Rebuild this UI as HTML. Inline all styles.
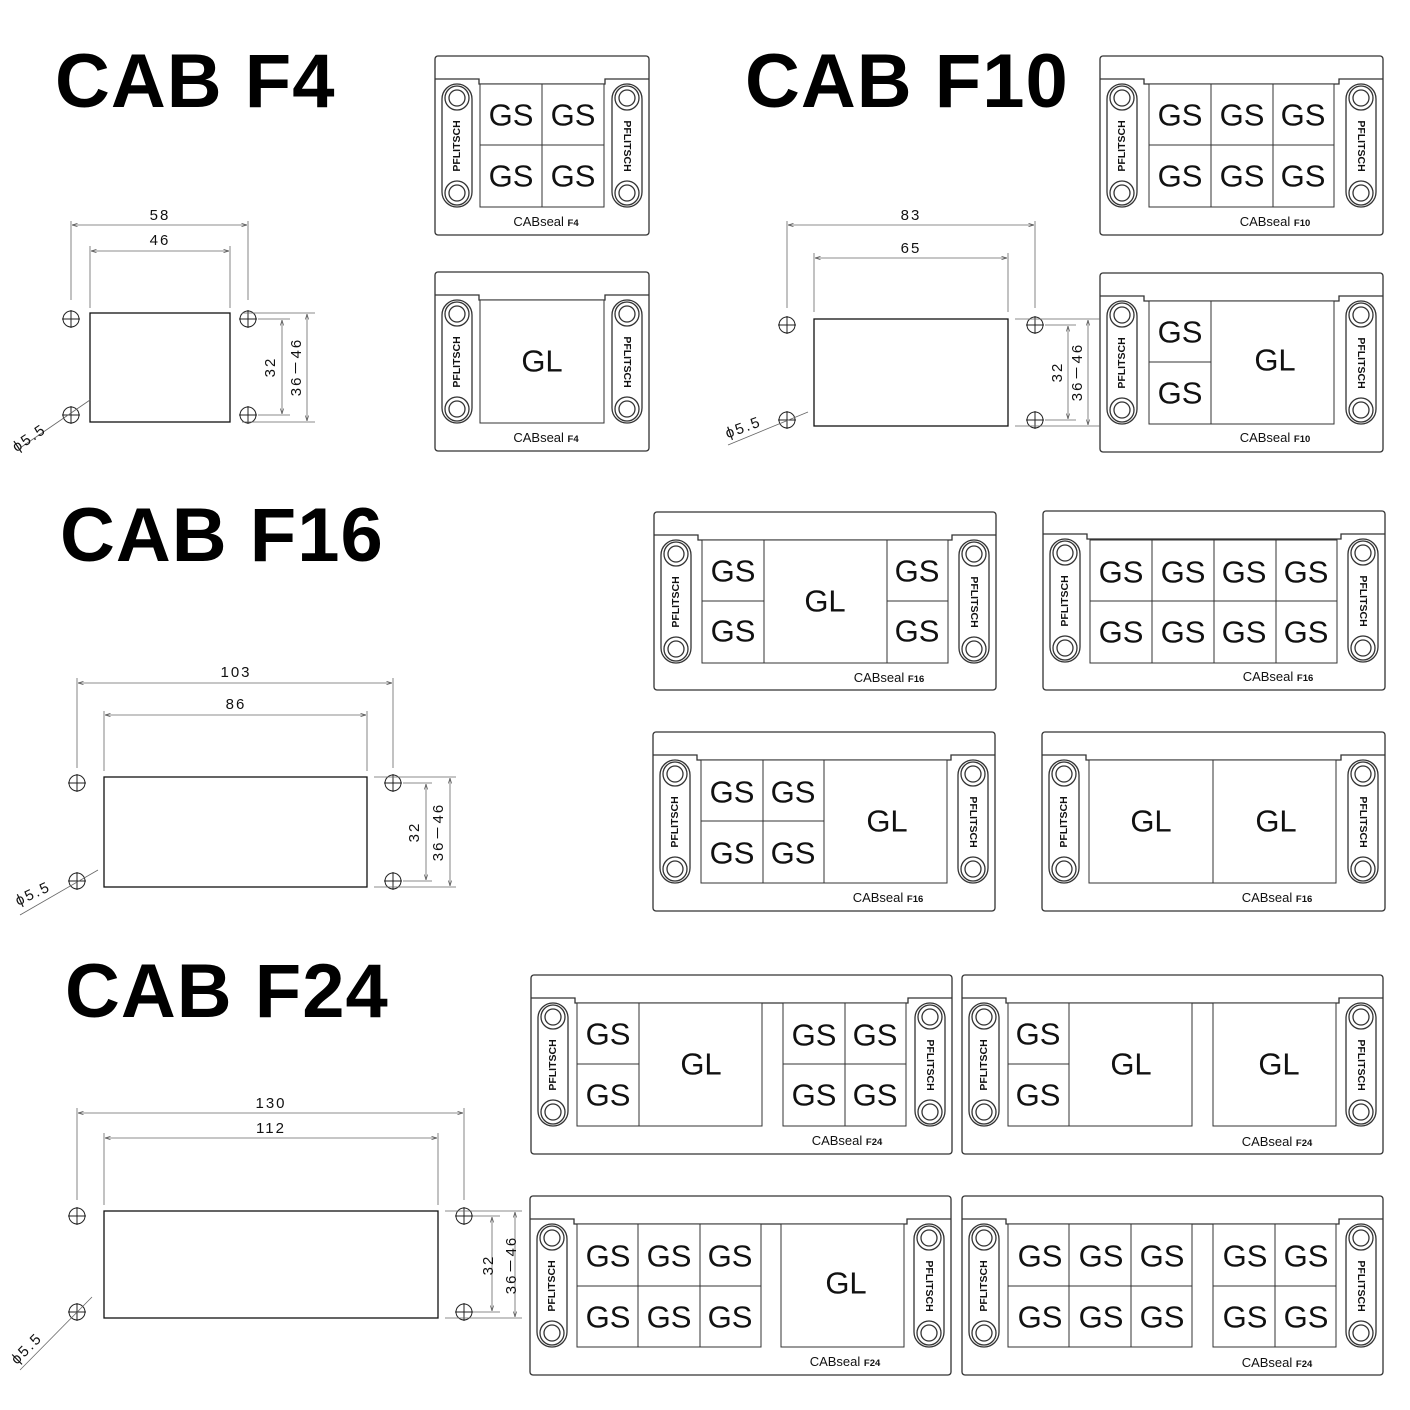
<!DOCTYPE html>
<html><head><meta charset="utf-8"><style>
html,body{margin:0;padding:0;background:#fff}
svg{display:block}
.f{fill:none;stroke:#333;stroke-width:1.3}
.c{fill:#fff;stroke:#333;stroke-width:1}
.d{fill:none;stroke:#666;stroke-width:0.8}
.k{fill:none;stroke:#111;stroke-width:1.3}
.h{fill:none;stroke:#222;stroke-width:1}
.t{font-family:"Liberation Sans",sans-serif;font-size:31px;fill:#111;text-anchor:middle;dominant-baseline:central}
.p{font-family:"Liberation Sans",sans-serif;font-size:10.5px;font-weight:bold;fill:#111;text-anchor:middle;dominant-baseline:central}
.l{font-family:"Liberation Sans",sans-serif;font-size:13px;fill:#111;text-anchor:middle}
.n{font-family:"Liberation Sans",sans-serif;font-size:15px;fill:#111;text-anchor:middle;letter-spacing:2px}
.T{font-family:"Liberation Sans",sans-serif;font-size:76px;font-weight:bold;fill:#000;letter-spacing:1px}
</style></head><body>
<svg width="1410" height="1410" viewBox="0 0 1410 1410" xmlns="http://www.w3.org/2000/svg">
<defs>
<marker id="a" viewBox="0 0 10 10" refX="10" refY="5" markerWidth="7" markerHeight="7" orient="auto-start-reverse"><path d="M0,2L10,5L0,8" fill="none" stroke="#555" stroke-width="1.2"/></marker>
<g id="railL">
<rect x="7" y="28" width="30" height="123" rx="15" class="f"/>
<circle cx="22" cy="42" r="12" class="f"/><circle cx="22" cy="42" r="8" class="f"/>
<circle cx="22" cy="137" r="12" class="f"/><circle cx="22" cy="137" r="8" class="f"/>
</g>
</defs>

<text class="T" x="55" y="107">CAB F4</text>
<text class="T" x="745" y="107">CAB F10</text>
<text class="T" x="60" y="561">CAB F16</text>
<text class="T" x="65" y="1017">CAB F24</text>

<g transform="translate(435,56)">
<rect x="0" y="0" width="214" height="179" rx="3" class="f"/>
<path d="M0,23H44V28H170V23H214" class="f"/>
<use href="#railL"/><use href="#railL" transform="translate(214,0) scale(-1,1)"/>
<text class="p" transform="translate(22,90) rotate(-90)">PFLITSCH</text>
<text class="p" transform="translate(192,90) rotate(90)">PFLITSCH</text>
</g>
<g transform="translate(435,272)">
<rect x="0" y="0" width="214" height="179" rx="3" class="f"/>
<path d="M0,23H44V28H170V23H214" class="f"/>
<use href="#railL"/><use href="#railL" transform="translate(214,0) scale(-1,1)"/>
<text class="p" transform="translate(22,90) rotate(-90)">PFLITSCH</text>
<text class="p" transform="translate(192,90) rotate(90)">PFLITSCH</text>
</g>
<g transform="translate(1100,56)">
<rect x="0" y="0" width="283" height="179" rx="3" class="f"/>
<path d="M0,23H44V28H239V23H283" class="f"/>
<use href="#railL"/><use href="#railL" transform="translate(283,0) scale(-1,1)"/>
<text class="p" transform="translate(22,90) rotate(-90)">PFLITSCH</text>
<text class="p" transform="translate(261,90) rotate(90)">PFLITSCH</text>
</g>
<g transform="translate(1100,273)">
<rect x="0" y="0" width="283" height="179" rx="3" class="f"/>
<path d="M0,23H44V28H239V23H283" class="f"/>
<use href="#railL"/><use href="#railL" transform="translate(283,0) scale(-1,1)"/>
<text class="p" transform="translate(22,90) rotate(-90)">PFLITSCH</text>
<text class="p" transform="translate(261,90) rotate(90)">PFLITSCH</text>
</g>
<g transform="translate(654,512)">
<rect x="0" y="0" width="342" height="178" rx="3" class="f"/>
<path d="M0,23H44V28H298V23H342" class="f"/>
<use href="#railL"/><use href="#railL" transform="translate(342,0) scale(-1,1)"/>
<text class="p" transform="translate(22,90) rotate(-90)">PFLITSCH</text>
<text class="p" transform="translate(320,90) rotate(90)">PFLITSCH</text>
</g>
<g transform="translate(1043,511)">
<rect x="0" y="0" width="342" height="179" rx="3" class="f"/>
<path d="M0,23H44V28H298V23H342" class="f"/>
<use href="#railL"/><use href="#railL" transform="translate(342,0) scale(-1,1)"/>
<text class="p" transform="translate(22,90) rotate(-90)">PFLITSCH</text>
<text class="p" transform="translate(320,90) rotate(90)">PFLITSCH</text>
</g>
<g transform="translate(653,732)">
<rect x="0" y="0" width="342" height="179" rx="3" class="f"/>
<path d="M0,23H44V28H298V23H342" class="f"/>
<use href="#railL"/><use href="#railL" transform="translate(342,0) scale(-1,1)"/>
<text class="p" transform="translate(22,90) rotate(-90)">PFLITSCH</text>
<text class="p" transform="translate(320,90) rotate(90)">PFLITSCH</text>
</g>
<g transform="translate(1042,732)">
<rect x="0" y="0" width="343" height="179" rx="3" class="f"/>
<path d="M0,23H44V28H299V23H343" class="f"/>
<use href="#railL"/><use href="#railL" transform="translate(343,0) scale(-1,1)"/>
<text class="p" transform="translate(22,90) rotate(-90)">PFLITSCH</text>
<text class="p" transform="translate(321,90) rotate(90)">PFLITSCH</text>
</g>
<g transform="translate(531,975)">
<rect x="0" y="0" width="421" height="179" rx="3" class="f"/>
<path d="M0,23H44V28H377V23H421" class="f"/>
<use href="#railL"/><use href="#railL" transform="translate(421,0) scale(-1,1)"/>
<text class="p" transform="translate(22,90) rotate(-90)">PFLITSCH</text>
<text class="p" transform="translate(399,90) rotate(90)">PFLITSCH</text>
</g>
<g transform="translate(962,975)">
<rect x="0" y="0" width="421" height="179" rx="3" class="f"/>
<path d="M0,23H44V28H377V23H421" class="f"/>
<use href="#railL"/><use href="#railL" transform="translate(421,0) scale(-1,1)"/>
<text class="p" transform="translate(22,90) rotate(-90)">PFLITSCH</text>
<text class="p" transform="translate(399,90) rotate(90)">PFLITSCH</text>
</g>
<g transform="translate(530,1196)">
<rect x="0" y="0" width="421" height="179" rx="3" class="f"/>
<path d="M0,23H44V28H377V23H421" class="f"/>
<use href="#railL"/><use href="#railL" transform="translate(421,0) scale(-1,1)"/>
<text class="p" transform="translate(22,90) rotate(-90)">PFLITSCH</text>
<text class="p" transform="translate(399,90) rotate(90)">PFLITSCH</text>
</g>
<g transform="translate(962,1196)">
<rect x="0" y="0" width="421" height="179" rx="3" class="f"/>
<path d="M0,23H44V28H377V23H421" class="f"/>
<use href="#railL"/><use href="#railL" transform="translate(421,0) scale(-1,1)"/>
<text class="p" transform="translate(22,90) rotate(-90)">PFLITSCH</text>
<text class="p" transform="translate(399,90) rotate(90)">PFLITSCH</text>
</g>

<rect class="c" x="480" y="84" width="62" height="61"/><rect class="c" x="542" y="84" width="62" height="61"/>
<rect class="c" x="480" y="145" width="62" height="62"/><rect class="c" x="542" y="145" width="62" height="62"/>
<text class="t" x="511" y="115">GS</text><text class="t" x="573" y="115">GS</text>
<text class="t" x="511" y="176">GS</text><text class="t" x="573" y="176">GS</text>
<rect class="c" x="480" y="300" width="124" height="123"/><text class="t" x="542" y="361">GL</text>
<rect class="c" x="1149" y="84" width="62" height="61"/><rect class="c" x="1211" y="84" width="62" height="61"/><rect class="c" x="1273" y="84" width="61" height="61"/>
<rect class="c" x="1149" y="145" width="62" height="62"/><rect class="c" x="1211" y="145" width="62" height="62"/><rect class="c" x="1273" y="145" width="61" height="62"/>
<text class="t" x="1180" y="115">GS</text><text class="t" x="1242" y="115">GS</text><text class="t" x="1303" y="115">GS</text>
<text class="t" x="1180" y="176">GS</text><text class="t" x="1242" y="176">GS</text><text class="t" x="1303" y="176">GS</text>
<rect class="c" x="1149" y="301" width="62" height="61"/><rect class="c" x="1149" y="362" width="62" height="62"/>
<rect class="c" x="1211" y="301" width="123" height="123"/>
<text class="t" x="1180" y="332">GS</text><text class="t" x="1180" y="393">GS</text><text class="t" x="1275" y="360">GL</text>
<rect class="c" x="702" y="540" width="62" height="61"/><rect class="c" x="702" y="601" width="62" height="62"/>
<rect class="c" x="764" y="540" width="123" height="123"/>
<rect class="c" x="887" y="540" width="61" height="61"/><rect class="c" x="887" y="601" width="61" height="62"/>
<text class="t" x="733" y="571">GS</text><text class="t" x="733" y="631">GS</text><text class="t" x="825" y="601">GL</text>
<text class="t" x="917" y="571">GS</text><text class="t" x="917" y="631">GS</text>
<rect class="c" x="1090" y="540" width="62" height="61"/><rect class="c" x="1152" y="540" width="62" height="61"/><rect class="c" x="1214" y="540" width="62" height="61"/><rect class="c" x="1276" y="540" width="61" height="61"/>
<rect class="c" x="1090" y="601" width="62" height="62"/><rect class="c" x="1152" y="601" width="62" height="62"/><rect class="c" x="1214" y="601" width="62" height="62"/><rect class="c" x="1276" y="601" width="61" height="62"/>
<text class="t" x="1121" y="572">GS</text><text class="t" x="1183" y="572">GS</text><text class="t" x="1244" y="572">GS</text><text class="t" x="1306" y="572">GS</text>
<text class="t" x="1121" y="632">GS</text><text class="t" x="1183" y="632">GS</text><text class="t" x="1244" y="632">GS</text><text class="t" x="1306" y="632">GS</text>
<rect class="c" x="701" y="760" width="62" height="61"/><rect class="c" x="763" y="760" width="61" height="61"/>
<rect class="c" x="701" y="821" width="62" height="62"/><rect class="c" x="763" y="821" width="61" height="62"/>
<rect class="c" x="824" y="760" width="123" height="123"/>
<text class="t" x="732" y="792">GS</text><text class="t" x="793" y="792">GS</text>
<text class="t" x="732" y="853">GS</text><text class="t" x="793" y="853">GS</text>
<text class="t" x="887" y="821">GL</text>
<rect class="c" x="1089" y="760" width="124" height="123"/><rect class="c" x="1213" y="760" width="123" height="123"/>
<text class="t" x="1151" y="821">GL</text><text class="t" x="1276" y="821">GL</text>
<rect class="c" x="577" y="1003" width="62" height="61"/><rect class="c" x="577" y="1064" width="62" height="62"/>
<rect class="c" x="639" y="1003" width="123" height="123"/>
<rect class="c" x="783" y="1003" width="62" height="61"/><rect class="c" x="845" y="1003" width="61" height="61"/>
<rect class="c" x="783" y="1064" width="62" height="62"/><rect class="c" x="845" y="1064" width="61" height="62"/>
<text class="t" x="608" y="1034">GS</text><text class="t" x="608" y="1095">GS</text><text class="t" x="701" y="1064">GL</text>
<text class="t" x="814" y="1035">GS</text><text class="t" x="875" y="1035">GS</text>
<text class="t" x="814" y="1095">GS</text><text class="t" x="875" y="1095">GS</text>
<rect class="c" x="1008" y="1003" width="61" height="61"/><rect class="c" x="1008" y="1064" width="61" height="62"/>
<rect class="c" x="1069" y="1003" width="123" height="123"/><rect class="c" x="1213" y="1003" width="123" height="123"/>
<text class="t" x="1038" y="1034">GS</text><text class="t" x="1038" y="1095">GS</text>
<text class="t" x="1131" y="1064">GL</text><text class="t" x="1279" y="1064">GL</text>
<rect class="c" x="577" y="1224" width="61" height="62"/><rect class="c" x="638" y="1224" width="62" height="62"/><rect class="c" x="700" y="1224" width="61" height="62"/>
<rect class="c" x="577" y="1286" width="61" height="61"/><rect class="c" x="638" y="1286" width="62" height="61"/><rect class="c" x="700" y="1286" width="61" height="61"/>
<rect class="c" x="781" y="1224" width="123" height="123"/>
<text class="t" x="608" y="1256">GS</text><text class="t" x="669" y="1256">GS</text><text class="t" x="730" y="1256">GS</text>
<text class="t" x="608" y="1317">GS</text><text class="t" x="669" y="1317">GS</text><text class="t" x="730" y="1317">GS</text>
<text class="t" x="846" y="1283">GL</text>
<rect class="c" x="1008" y="1224" width="61" height="62"/><rect class="c" x="1069" y="1224" width="62" height="62"/><rect class="c" x="1131" y="1224" width="61" height="62"/>
<rect class="c" x="1008" y="1286" width="61" height="61"/><rect class="c" x="1069" y="1286" width="62" height="61"/><rect class="c" x="1131" y="1286" width="61" height="61"/>
<rect class="c" x="1213" y="1224" width="62" height="62"/><rect class="c" x="1275" y="1224" width="61" height="62"/>
<rect class="c" x="1213" y="1286" width="62" height="61"/><rect class="c" x="1275" y="1286" width="61" height="61"/>
<text class="t" x="1040" y="1256">GS</text><text class="t" x="1101" y="1256">GS</text><text class="t" x="1162" y="1256">GS</text>
<text class="t" x="1040" y="1317">GS</text><text class="t" x="1101" y="1317">GS</text><text class="t" x="1162" y="1317">GS</text>
<text class="t" x="1245" y="1256">GS</text><text class="t" x="1306" y="1256">GS</text>
<text class="t" x="1245" y="1317">GS</text><text class="t" x="1306" y="1317">GS</text>

<text class="l" x="546" y="226">CABseal <tspan font-size="9.5" font-weight="bold">F4</tspan></text>
<text class="l" x="546" y="442">CABseal <tspan font-size="9.5" font-weight="bold">F4</tspan></text>
<text class="l" x="1275" y="226">CABseal <tspan font-size="9.5" font-weight="bold">F10</tspan></text>
<text class="l" x="1275" y="442">CABseal <tspan font-size="9.5" font-weight="bold">F10</tspan></text>
<text class="l" x="889" y="682">CABseal <tspan font-size="9.5" font-weight="bold">F16</tspan></text>
<text class="l" x="1278" y="681">CABseal <tspan font-size="9.5" font-weight="bold">F16</tspan></text>
<text class="l" x="888" y="902">CABseal <tspan font-size="9.5" font-weight="bold">F16</tspan></text>
<text class="l" x="1277" y="902">CABseal <tspan font-size="9.5" font-weight="bold">F16</tspan></text>
<text class="l" x="847" y="1145">CABseal <tspan font-size="9.5" font-weight="bold">F24</tspan></text>
<text class="l" x="1277" y="1146">CABseal <tspan font-size="9.5" font-weight="bold">F24</tspan></text>
<text class="l" x="845" y="1366">CABseal <tspan font-size="9.5" font-weight="bold">F24</tspan></text>
<text class="l" x="1277" y="1367">CABseal <tspan font-size="9.5" font-weight="bold">F24</tspan></text>

<g>
<rect class="k" x="90" y="313" width="140" height="109"/>
<g class="h">
<circle cx="71" cy="319" r="8"/><path d="M62,319H80M71,310V328"/>
<circle cx="248" cy="319" r="8"/><path d="M239,319H257M248,310V328"/>
<circle cx="71" cy="415" r="8"/><path d="M62,415H80M71,406V424"/>
<circle cx="248" cy="415" r="8"/><path d="M239,415H257M248,406V424"/>
</g>
<path class="d" d="M71,221V300M248,221V300M90,246V308M230,246V308M242,313H315M242,422H315M258,319H290M258,415H290"/>
<line class="d" x1="72" y1="225" x2="247" y2="225" marker-start="url(#a)" marker-end="url(#a)"/>
<line class="d" x1="91" y1="251" x2="229" y2="251" marker-start="url(#a)" marker-end="url(#a)"/>
<line class="d" x1="282" y1="320" x2="282" y2="414" marker-start="url(#a)" marker-end="url(#a)"/>
<line class="d" x1="307" y1="314" x2="307" y2="421" marker-start="url(#a)" marker-end="url(#a)"/>
<text class="n" x="160" y="220">58</text>
<text class="n" x="160" y="245">46</text>
<text class="n" transform="translate(275,367) rotate(-90)">32</text>
<text class="n" transform="translate(301,367) rotate(-90)">36－46</text>
<line class="d" x1="20" y1="448" x2="90" y2="400"/>
<text class="n" transform="translate(32,442) rotate(-34)">ϕ5.5</text>
</g>
<g>
<rect class="k" x="814" y="319" width="194" height="107"/>
<g class="h">
<circle cx="787" cy="325" r="8"/><path d="M778,325H796M787,316V334"/>
<circle cx="1035" cy="325" r="8"/><path d="M1026,325H1044M1035,316V334"/>
<circle cx="787" cy="420" r="8"/><path d="M778,420H796M787,411V429"/>
<circle cx="1035" cy="420" r="8"/><path d="M1026,420H1044M1035,411V429"/>
</g>
<path class="d" d="M787,221V308M1035,221V308M814,253V312M1008,253V312M1015,319H1100M1015,426H1100M1045,325H1076M1045,420H1076"/>
<line class="d" x1="788" y1="225" x2="1034" y2="225" marker-start="url(#a)" marker-end="url(#a)"/>
<line class="d" x1="815" y1="258" x2="1007" y2="258" marker-start="url(#a)" marker-end="url(#a)"/>
<line class="d" x1="1068" y1="326" x2="1068" y2="419" marker-start="url(#a)" marker-end="url(#a)"/>
<line class="d" x1="1088" y1="320" x2="1088" y2="425" marker-start="url(#a)" marker-end="url(#a)"/>
<text class="n" x="911" y="220">83</text>
<text class="n" x="911" y="253">65</text>
<text class="n" transform="translate(1062,372) rotate(-90)">32</text>
<text class="n" transform="translate(1082,372) rotate(-90)">36－46</text>
<line class="d" x1="728" y1="445" x2="808" y2="412"/>
<text class="n" transform="translate(745,432) rotate(-20)">ϕ5.5</text>
</g>
<g>
<rect class="k" x="104" y="777" width="263" height="110"/>
<g class="h">
<circle cx="77" cy="783" r="8"/><path d="M68,783H86M77,774V792"/>
<circle cx="393" cy="783" r="8"/><path d="M384,783H402M393,774V792"/>
<circle cx="77" cy="881" r="8"/><path d="M68,881H86M77,872V890"/>
<circle cx="393" cy="881" r="8"/><path d="M384,881H402M393,872V890"/>
</g>
<path class="d" d="M77,678V768M393,678V768M104,711V771M367,711V771M374,777H456M374,887H456M403,783H432M403,881H432"/>
<line class="d" x1="78" y1="683" x2="392" y2="683" marker-start="url(#a)" marker-end="url(#a)"/>
<line class="d" x1="105" y1="715" x2="366" y2="715" marker-start="url(#a)" marker-end="url(#a)"/>
<line class="d" x1="426" y1="784" x2="426" y2="880" marker-start="url(#a)" marker-end="url(#a)"/>
<line class="d" x1="450" y1="778" x2="450" y2="886" marker-start="url(#a)" marker-end="url(#a)"/>
<text class="n" x="236" y="677">103</text>
<text class="n" x="236" y="709">86</text>
<text class="n" transform="translate(419,832) rotate(-90)">32</text>
<text class="n" transform="translate(443,832) rotate(-90)">36－46</text>
<line class="d" x1="20" y1="915" x2="98" y2="870"/>
<text class="n" transform="translate(35,898) rotate(-25)">ϕ5.5</text>
</g>
<g>
<rect class="k" x="104" y="1211" width="334" height="107"/>
<g class="h">
<circle cx="77" cy="1216" r="8"/><path d="M68,1216H86M77,1207V1225"/>
<circle cx="464" cy="1216" r="8"/><path d="M455,1216H473M464,1207V1225"/>
<circle cx="77" cy="1312" r="8"/><path d="M68,1312H86M77,1303V1321"/>
<circle cx="464" cy="1312" r="8"/><path d="M455,1312H473M464,1303V1321"/>
</g>
<path class="d" d="M77,1108V1200M464,1108V1200M104,1133V1205M438,1133V1205M445,1211H522M445,1318H522M473,1216H500M473,1312H500"/>
<line class="d" x1="78" y1="1113" x2="463" y2="1113" marker-start="url(#a)" marker-end="url(#a)"/>
<line class="d" x1="105" y1="1138" x2="437" y2="1138" marker-start="url(#a)" marker-end="url(#a)"/>
<line class="d" x1="492" y1="1217" x2="492" y2="1311" marker-start="url(#a)" marker-end="url(#a)"/>
<line class="d" x1="515" y1="1212" x2="515" y2="1317" marker-start="url(#a)" marker-end="url(#a)"/>
<text class="n" x="271" y="1108">130</text>
<text class="n" x="271" y="1133">112</text>
<text class="n" transform="translate(493,1265) rotate(-90)">32</text>
<text class="n" transform="translate(516,1265) rotate(-90)">36－46</text>
<line class="d" x1="20" y1="1370" x2="92" y2="1297"/>
<text class="n" transform="translate(30,1352) rotate(-45)">ϕ5.5</text>
</g>
</svg>
</body></html>
